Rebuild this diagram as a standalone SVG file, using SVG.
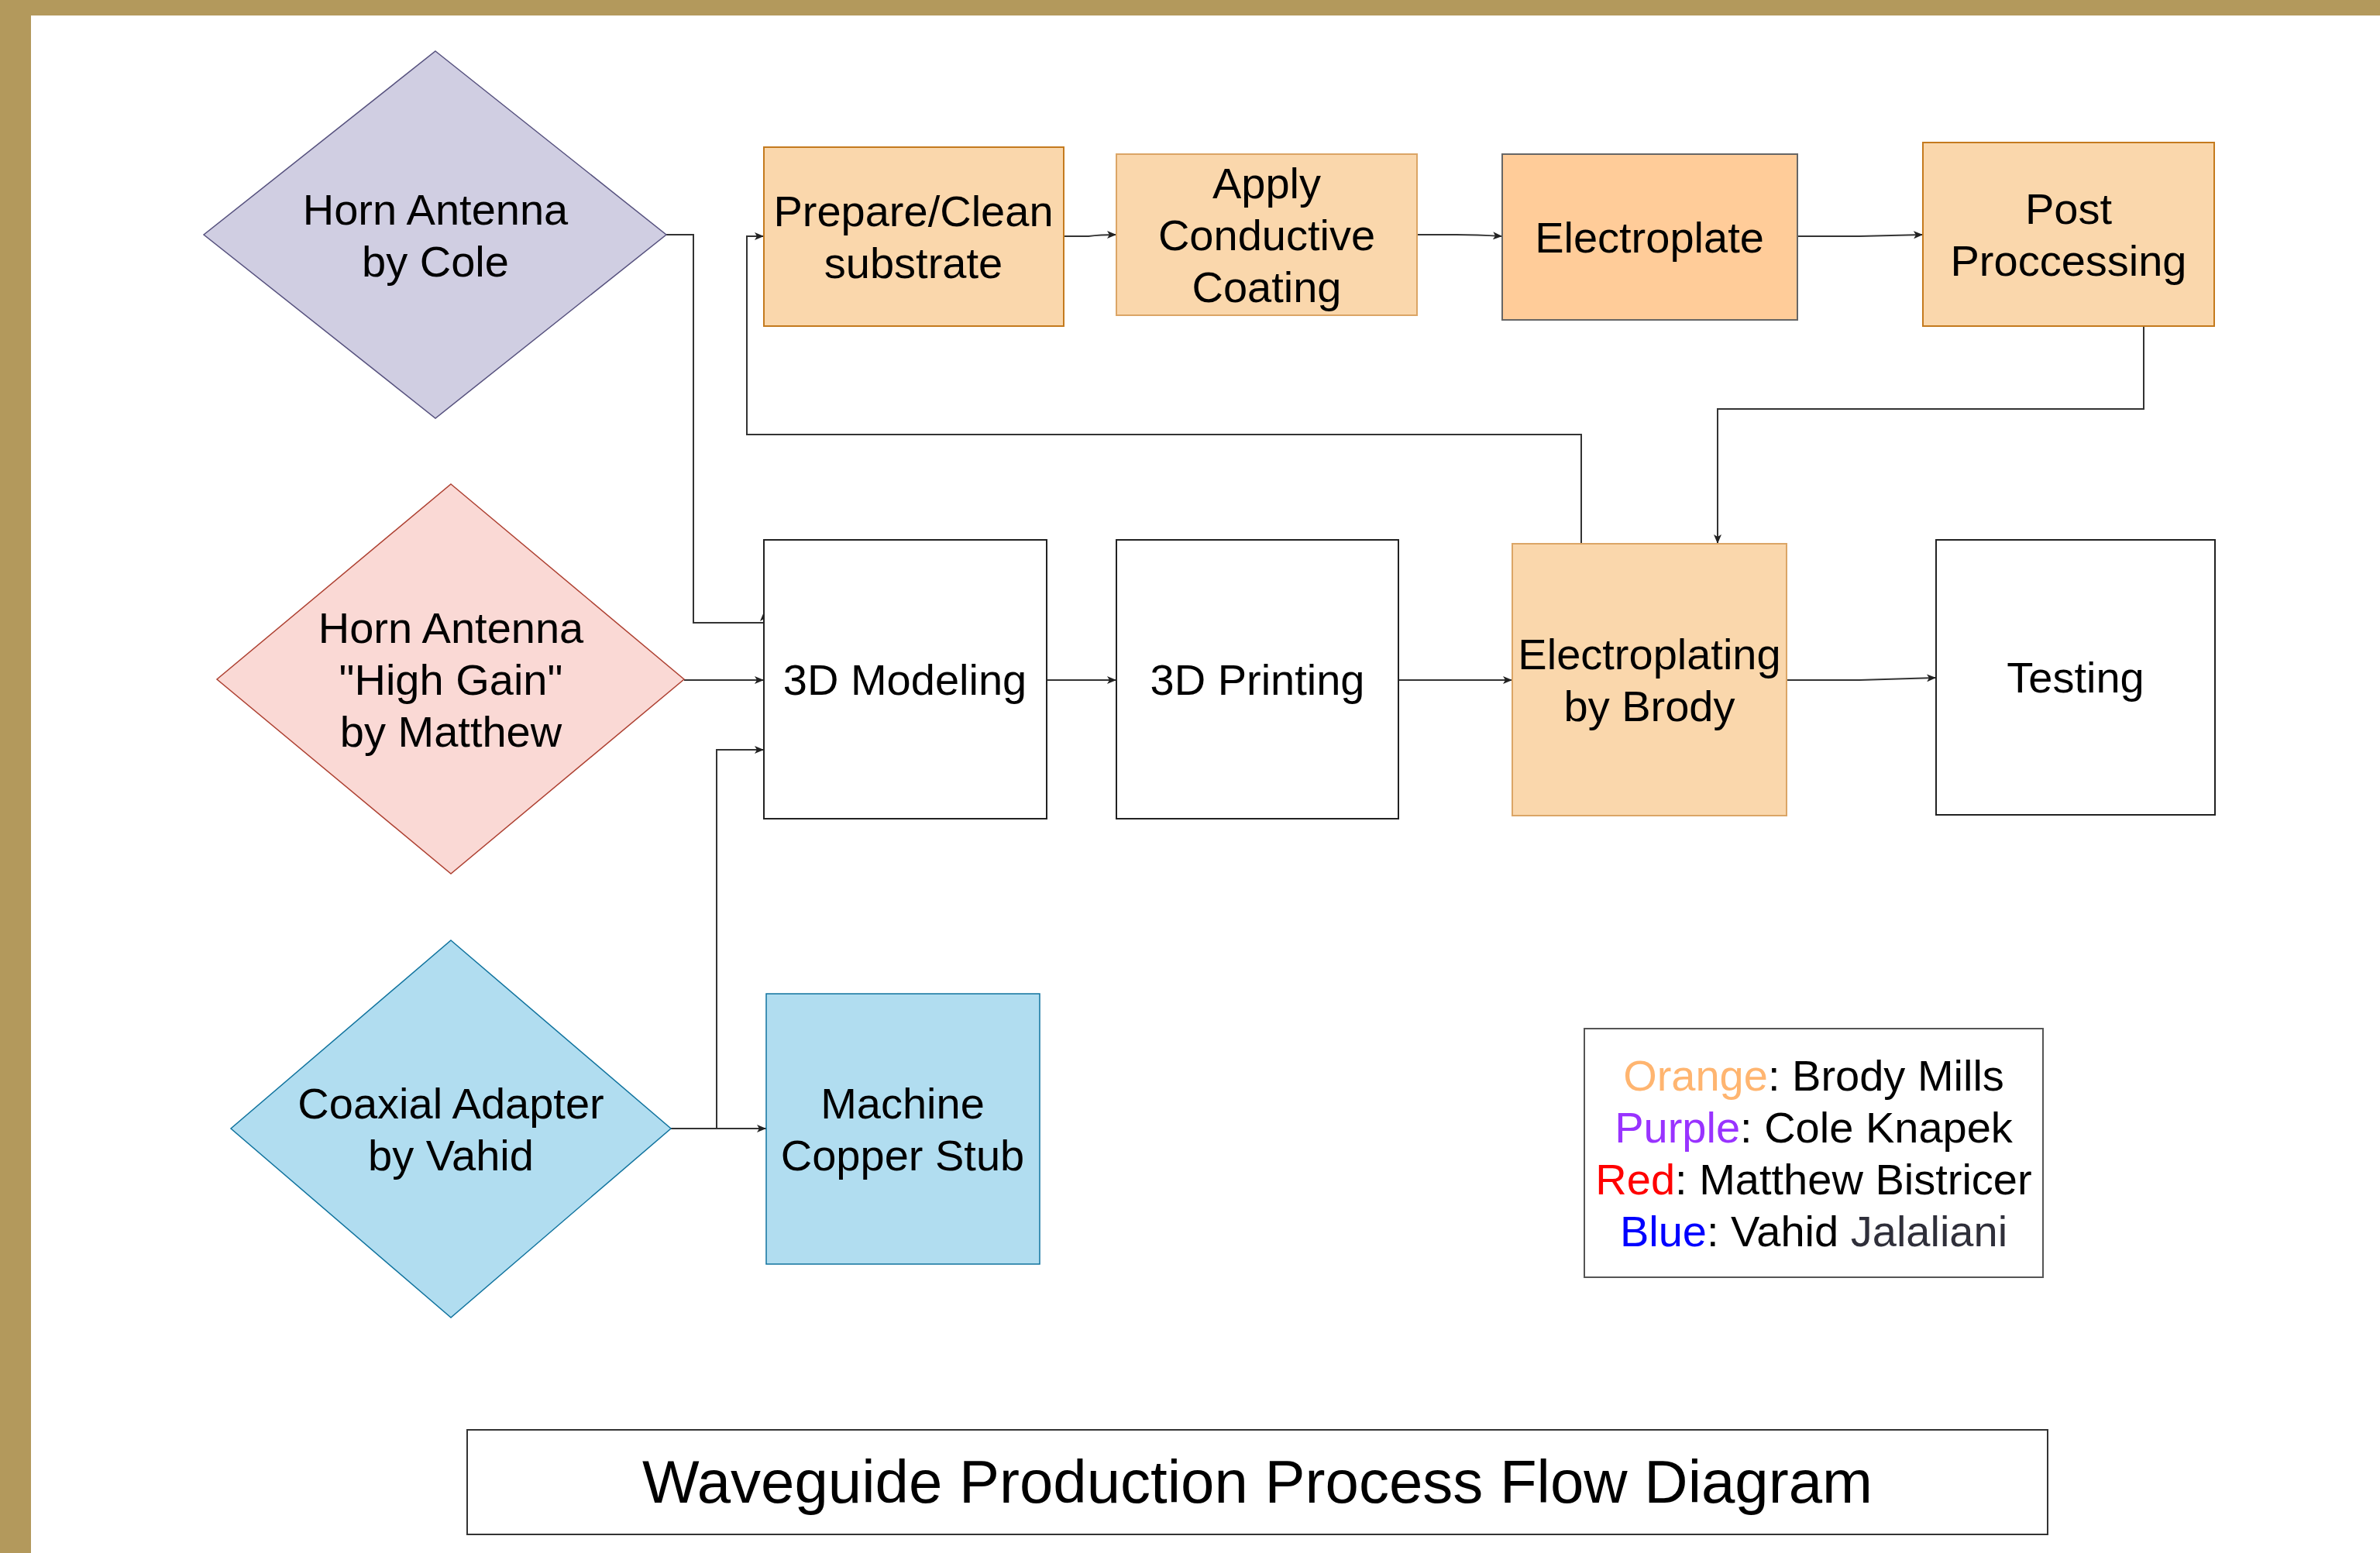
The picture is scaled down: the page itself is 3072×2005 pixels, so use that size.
<svg xmlns="http://www.w3.org/2000/svg" width="3072" height="2005" viewBox="0 0 3072 2005">
  <style>
    text { font-family: "Liberation Sans", Arial, sans-serif; font-size: 56px; fill: #000; text-anchor: middle; }
    .title { font-size: 78px; }
    .edge { fill: none; stroke: #333; stroke-width: 2; }
    .orange { fill: #fad7ac; stroke: #c47a1e; stroke-width: 2; }
    .orange-soft { fill: #fad7ac; stroke: #dba566; stroke-width: 2; }
    .plate { fill: #ffcc99; stroke: #666; stroke-width: 2; }
    .plain { fill: #fff; stroke: #222; stroke-width: 2; }
    .purple { fill: #d0cee2; stroke: #56517e; stroke-width: 1.5; }
    .red { fill: #fad9d5; stroke: #ae4132; stroke-width: 1.5; }
    .blue { fill: #b1ddf0; stroke: #10739e; stroke-width: 1.5; }
  </style>
  <defs>
    <marker id="arrow" markerUnits="userSpaceOnUse" markerWidth="12" markerHeight="10" refX="12" refY="5" orient="auto">
      <path d="M0,0 L12,5 L0,10 L3,5 z" fill="#222"/>
    </marker>
  </defs>

  <!-- page background and gold frame -->
  <rect x="0" y="0" width="3072" height="2005" fill="#fff"/>
  <rect x="0" y="0" width="3072" height="20" fill="#b3995c"/>
  <rect x="0" y="0" width="40" height="2005" fill="#b3995c"/>

  <!-- connectors -->
  <g id="connectors">
    <path class="edge" d="M860,303 H895 V804 H986 V790" marker-end="url(#arrow)"/>
    <path class="edge" d="M883,878 H986" marker-end="url(#arrow)"/>
    <path class="edge" d="M866,1457 H989" marker-end="url(#arrow)"/>
    <path class="edge" d="M925,1457 V968 H986" marker-end="url(#arrow)"/>
    <path class="edge" d="M1351,878 H1441" marker-end="url(#arrow)"/>
    <path class="edge" d="M1805,878 H1952" marker-end="url(#arrow)"/>
    <path class="edge" d="M2306,878 H2400 L2499,875" marker-end="url(#arrow)"/>
    <path class="edge" d="M1373,305 H1405 Q1420,303 1441,303" marker-end="url(#arrow)"/>
    <path class="edge" d="M1829,303 H1880 Q1905,303 1939,305" marker-end="url(#arrow)"/>
    <path class="edge" d="M2320,305 H2400 L2482,303" marker-end="url(#arrow)"/>
    <path class="edge" d="M2767,421 V528 H2217 V702" marker-end="url(#arrow)"/>
    <path class="edge" d="M2041,702 V561 H964 V305 H986" marker-end="url(#arrow)"/>
  </g>

  <!-- source parts -->
  <g id="horn-cole">
    <polygon class="purple" points="562,66 860,303 562,540 263,303"/>
    <text x="562" y="290">Horn Antenna</text>
    <text x="562" y="357">by Cole</text>
  </g>
  <g id="horn-matthew">
    <polygon class="red" points="582,625 883,877 582,1128 280,877"/>
    <text x="582" y="830">Horn Antenna</text>
    <text x="582" y="897">"High Gain"</text>
    <text x="582" y="964">by Matthew</text>
  </g>
  <g id="coax-vahid">
    <polygon class="blue" points="582,1214 866,1457 582,1701 298,1457"/>
    <text x="582" y="1444">Coaxial Adapter</text>
    <text x="582" y="1511">by Vahid</text>
  </g>

  <!-- plating chain -->
  <g id="prepare">
    <rect class="orange" x="986" y="190" width="387" height="231"/>
    <text x="1179" y="292">Prepare/Clean</text>
    <text x="1179" y="359">substrate</text>
  </g>
  <g id="coating">
    <rect class="orange-soft" x="1441" y="199" width="388" height="208"/>
    <text x="1635" y="256">Apply</text>
    <text x="1635" y="323">Conductive</text>
    <text x="1635" y="390">Coating</text>
  </g>
  <g id="electroplate">
    <rect class="plate" x="1939" y="199" width="381" height="214"/>
    <text x="2129" y="326">Electroplate</text>
  </g>
  <g id="post">
    <rect class="orange" x="2482" y="184" width="376" height="237"/>
    <text x="2670" y="289">Post</text>
    <text x="2670" y="356">Proccessing</text>
  </g>

  <!-- main line -->
  <g id="modeling">
    <rect class="plain" x="986" y="697" width="365" height="360"/>
    <text x="1168" y="897">3D Modeling</text>
  </g>
  <g id="printing">
    <rect class="plain" x="1441" y="697" width="364" height="360"/>
    <text x="1623" y="897">3D Printing</text>
  </g>
  <g id="electroplating-brody">
    <rect class="orange-soft" x="1952" y="702" width="354" height="351"/>
    <text x="2129" y="864">Electroplating</text>
    <text x="2129" y="931">by Brody</text>
  </g>
  <g id="testing">
    <rect class="plain" x="2499" y="697" width="360" height="355"/>
    <text x="2679" y="894">Testing</text>
  </g>
  <g id="copper-stub">
    <rect class="blue" x="989" y="1283" width="353" height="349"/>
    <text x="1165" y="1444">Machine</text>
    <text x="1165" y="1511">Copper Stub</text>
  </g>

  <!-- legend -->
  <g id="legend">
    <rect x="2045" y="1328" width="592" height="321" fill="#fff" stroke="#555" stroke-width="2"/>
    <text x="2341" y="1408"><tspan fill="#ffb570">Orange</tspan>: Brody Mills</text>
    <text x="2341" y="1475"><tspan fill="#9933ff">Purple</tspan>: Cole Knapek</text>
    <text x="2341" y="1542"><tspan fill="#ff0000">Red</tspan>: Matthew Bistricer</text>
    <text x="2341" y="1609"><tspan fill="#0000ff">Blue</tspan>: Vahid <tspan fill="#2f2f3a">Jalaliani</tspan></text>
  </g>

  <!-- title -->
  <g id="title">
    <rect x="603" y="1846" width="2040" height="135" fill="#fff" stroke="#333" stroke-width="2"/>
    <text class="title" x="1623" y="1940">Waveguide Production Process Flow Diagram</text>
  </g>
</svg>
